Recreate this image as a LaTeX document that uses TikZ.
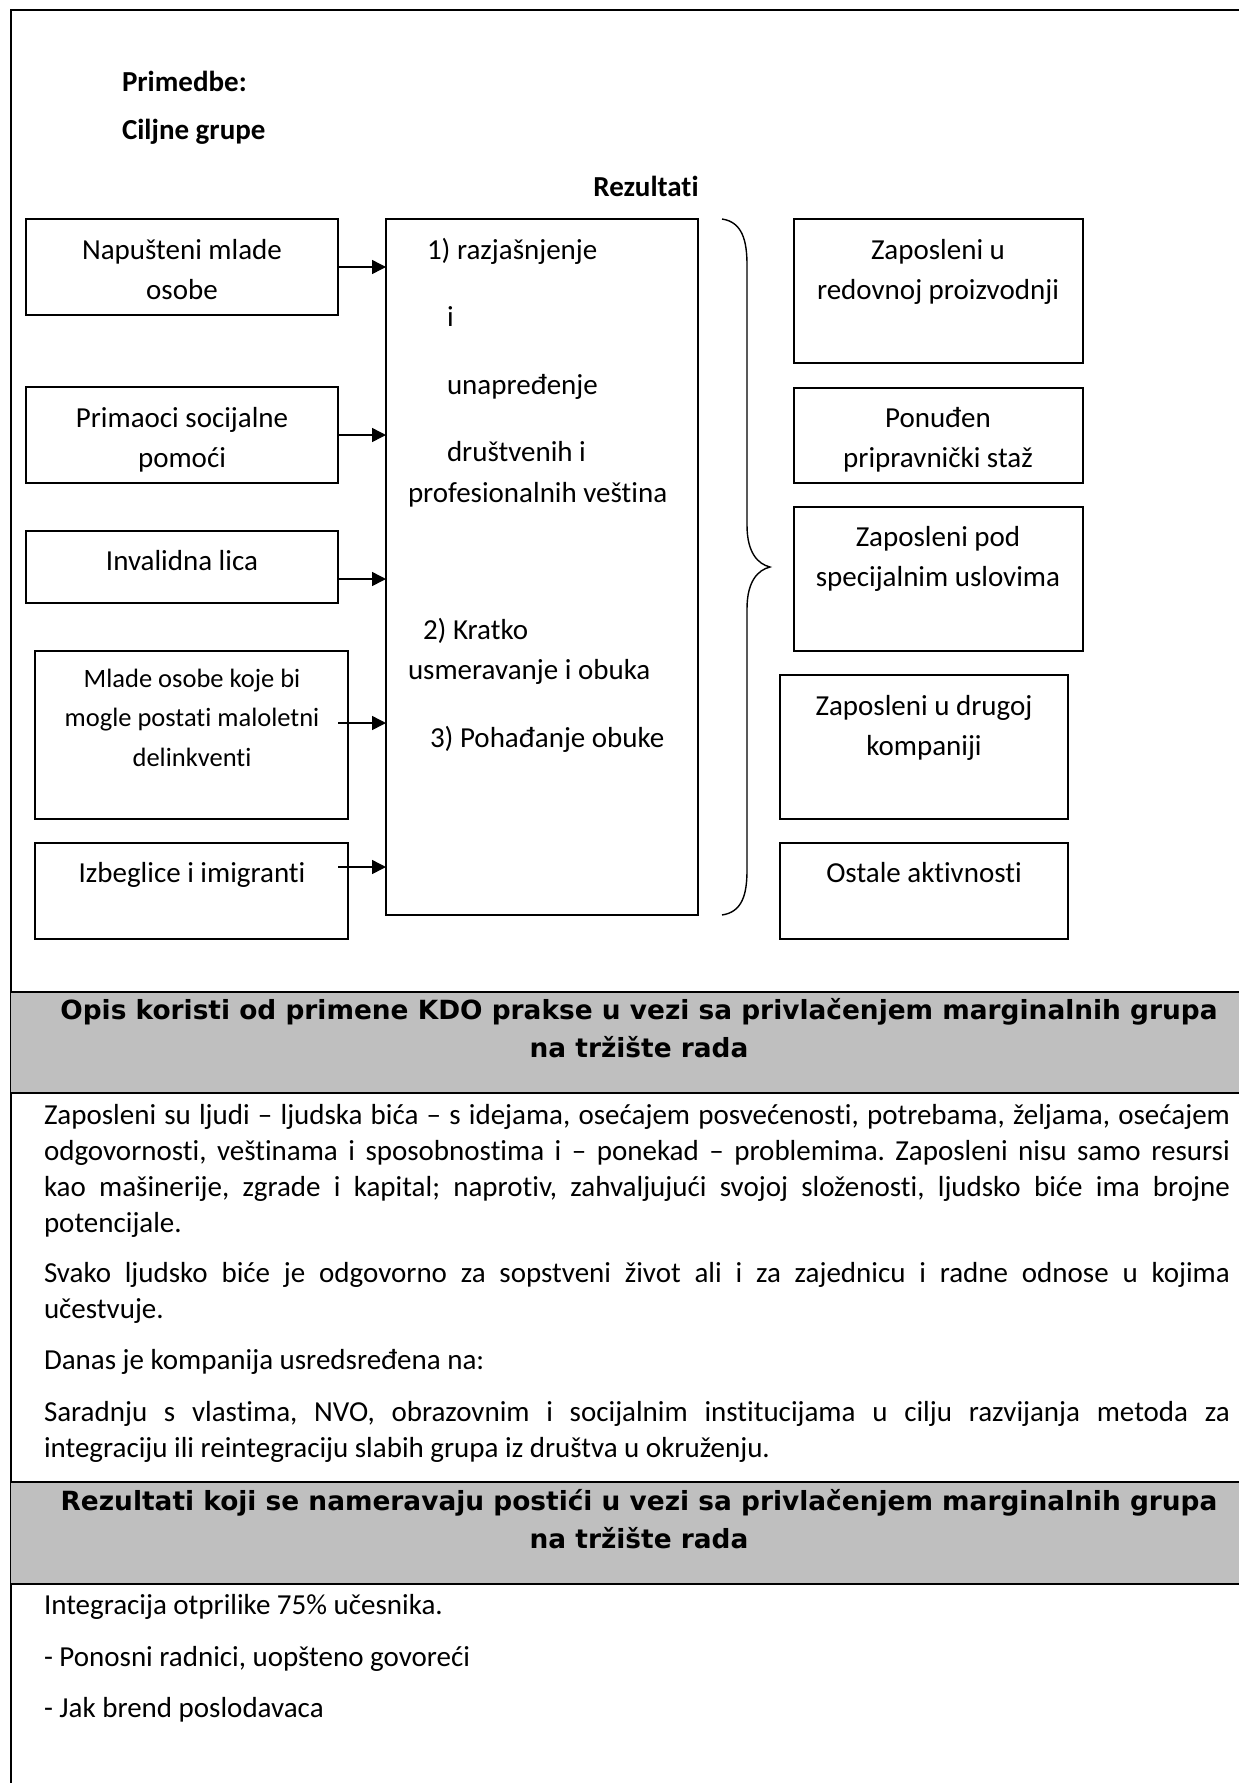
\documentclass[tikz,border=0pt]{standalone}
\usepackage{fontspec}
\setmainfont{Carlito}[Ligatures=NoCommon]
\newfontfamily\hdrfont{DejaVu Sans}[Ligatures=NoCommon]
\usetikzlibrary{arrows.meta}
\definecolor{hdrgray}{RGB}{191,191,191}
\frenchspacing
\newXeTeXintercharclass\tchclass
\newXeTeXintercharclass\ichclass
\XeTeXcharclass`t=\tchclass
\XeTeXcharclass`i=\ichclass
\XeTeXinterchartoks\tchclass\ichclass={\kern0pt }
\newcommand\noligti{\XeTeXinterchartokenstate=1\relax}
\newcommand\boxtxt[1]{\parbox[t]{300pt}{\centering\fontsize{29}{40}\selectfont #1}}
\newcommand\boxtxtsm[1]{\parbox[t]{300pt}{\centering\fontsize{26.5}{39.5}\selectfont #1}}
\newcommand\hdrtxt[1]{\parbox[t]{1239pt}{\centering\hdrfont\bfseries\fontsize{26.4}{38}\selectfont #1}}
\newcommand\jl[1]{\hbox to 1186pt{#1}}
\newcommand\bodyfont{\fontsize{29}{36}\selectfont}
\begin{document}
\begin{tikzpicture}[x=1pt,y=-1pt,
  box/.style={draw, line width=1.8pt, inner sep=0pt, outer sep=0pt, anchor=north west},
  cbox/.style={draw, line width=1.4pt, inner sep=0pt, outer sep=0pt, anchor=north west},
  lbl/.style={inner sep=0pt, outer sep=0pt, font=\fontsize{29}{40}\selectfont\noligti},
  arr/.style={line width=1.5pt, -{Triangle[length=14pt,width=14pt]}},
  frameline/.style={line width=2.4pt},
  hdrline/.style={line width=2pt},
]
\useasboundingbox (0,0) rectangle (1239,1783);
\fill[white] (0,0) rectangle (1239,1783);

% outer frame
\draw[frameline] (11,1783) -- (11,10) -- (1239,10);

% top labels
\node[lbl, anchor=base west] (prim) at (122,91) {\bfseries Primedbe:};
\node[lbl, anchor=base west] (cilj) at (122,139) {\bfseries Ciljne grupe};
\node[lbl, anchor=base] (rez) at (646,196) {\bfseries Rezultati};

% left boxes
\node[box, minimum width=312pt, minimum height=96pt] (L1) at (26,219) {};
\node[box, minimum width=312pt, minimum height=96pt] (L2) at (26,387) {};
\node[box, minimum width=312pt, minimum height=72pt] (L3) at (26,531) {};
\node[box, minimum width=313pt, minimum height=168pt] (L4) at (35,651) {};
\node[box, minimum width=313pt, minimum height=96pt] (L5) at (35,843) {};

\node[lbl, anchor=base] (tL1) at (182,259) {\boxtxt{Napušteni mlade\\osobe}};
\node[lbl, anchor=base] (tL2) at (182,427) {\boxtxt{Primaoci socijalne\\pomoći}};
\node[lbl, anchor=base] (tL3) at (182,570) {\boxtxt{Invalidna lica}};
\node[lbl, anchor=base] (tL4) at (192,687) {\boxtxtsm{Mlade osobe koje bi\\mogle postati maloletni\\delinkventi}};
\node[lbl, anchor=base] (tL5) at (192,882) {\boxtxt{Izbeglice i imigranti}};

% centre box
\node[cbox, minimum width=312pt, minimum height=696pt] (C) at (386,219) {};
\node[lbl, anchor=base west] (c1) at (427,259) {1) razjašnjenje};
\node[lbl, anchor=base west] (c2) at (447,326) {i};
\node[lbl, anchor=base west] (c3) at (447,394) {unapređenje};
\node[lbl, anchor=base west] (c4) at (447,461) {društvenih i};
\node[lbl, anchor=base west] (c5) at (408,502) {profesionalnih veština};
\node[lbl, anchor=base west] (c6) at (423,639) {2) Kratko};
\node[lbl, anchor=base west] (c7) at (408,679) {usmeravanje i obuka};
\node[lbl, anchor=base west] (c8) at (430,747) {3) Pohađanje obuke};

% arrows
\coordinate (y3) at (0,579);
\coordinate (a4) at (338,723);
\coordinate (a5) at (338,867);
\draw[arr] (L1.east) -- (L1.east -| C.west);
\draw[arr] (L2.east) -- (L2.east -| C.west);
\draw[arr] (L3.east |- y3) -- (C.west |- y3);
\draw[arr] (a4) -- (C.west |- a4);
\draw[arr] (a5) -- (C.west |- a5);

% brace
\draw[line width=1.4pt] (722,219) .. controls (742,222) and (747,240) .. (747,265)
  -- (747,525) .. controls (747,553) and (758,564) .. (770,567)
  .. controls (758,570) and (747,581) .. (747,609)
  -- (747,870) .. controls (747,895) and (742,912) .. (722,915);

% right boxes
\node[box, minimum width=289pt, minimum height=144pt] (R1) at (794,219) {};
\node[box, minimum width=289pt, minimum height=95pt] (R2) at (794,388) {};
\node[box, minimum width=289pt, minimum height=144pt] (R3) at (794,507) {};
\node[box, minimum width=288pt, minimum height=144pt] (R4) at (780,675) {};
\node[box, minimum width=288pt, minimum height=96pt] (R5) at (780,843) {};

\node[lbl, anchor=base] (tR1) at (938,259) {\boxtxt{Zaposleni u\\redovnoj proizvodnji}};
\node[lbl, anchor=base] (tR2) at (938,427) {\boxtxt{Ponuđen\\pripravnički staž}};
\node[lbl, anchor=base] (tR3) at (938,546) {\boxtxt{Zaposleni pod\\specijalnim uslovima}};
\node[lbl, anchor=base] (tR4) at (924,715) {\boxtxt{Zaposleni u drugoj\\kompaniji}};
\node[lbl, anchor=base] (tR5) at (924,882) {\boxtxt{Ostale aktivnosti}};

% header 1
\fill[hdrgray] (11,992) rectangle (1239,1093);
\draw[hdrline] (11,992) -- (1239,992);
\draw[hdrline] (11,1093) -- (1239,1093);
\node[lbl, anchor=base] (h1) at (639,1019) {\hdrtxt{Opis koristi od primene KDO prakse u vezi sa privlačenjem marginalnih grupa\\na tržište rada}};

% body 1
\node[lbl, anchor=base west] (p1) at (44,1124) {\vtop{\bodyfont
\jl{Zaposleni su ljudi – ljudska bića – s idejama, osećajem posvećenosti, potrebama, željama, osećajem}
\jl{odgovornosti, veštinama i sposobnostima i – ponekad – problemima. Zaposleni nisu samo resursi}
\jl{kao mašinerije, zgrade i kapital; naprotiv, zahvaljujući svojoj složenosti, ljudsko biće ima brojne}
\hbox{potencijale.}}};
\node[lbl, anchor=base west] (p2) at (44,1282) {\vtop{\bodyfont
\jl{Svako ljudsko biće je odgovorno za sopstveni život ali i za zajednicu i radne odnose u kojima}
\hbox{učestvuje.}}};
\node[lbl, anchor=base west] (p3) at (44,1369) {\bodyfont Danas je kompanija usredsređena na:};
\node[lbl, anchor=base west] (p4) at (44,1421) {\vtop{\bodyfont
\jl{Saradnju s vlastima, NVO, obrazovnim i socijalnim institucijama u cilju razvijanja metoda za}
\hbox{integraciju ili reintegraciju slabih grupa iz društva u okruženju.}}};

% header 2
\fill[hdrgray] (11,1482) rectangle (1239,1584);
\draw[hdrline] (11,1482) -- (1239,1482);
\draw[hdrline] (11,1584) -- (1239,1584);
\node[lbl, anchor=base] (h2) at (639,1510) {\hdrtxt{Rezultati koji se nameravaju postići u vezi sa privlačenjem marginalnih grupa\\na tržište rada}};

% body 2
\node[lbl, anchor=base west] (q1) at (44,1614) {\bodyfont Integracija otprilike 75\% učesnika.};
\node[lbl, anchor=base west] (q2) at (44,1666) {\bodyfont - Ponosni radnici, uopšteno govoreći};
\node[lbl, anchor=base west] (q3) at (44,1717) {\bodyfont - Jak brend poslodavaca};
\end{tikzpicture}
\end{document}
